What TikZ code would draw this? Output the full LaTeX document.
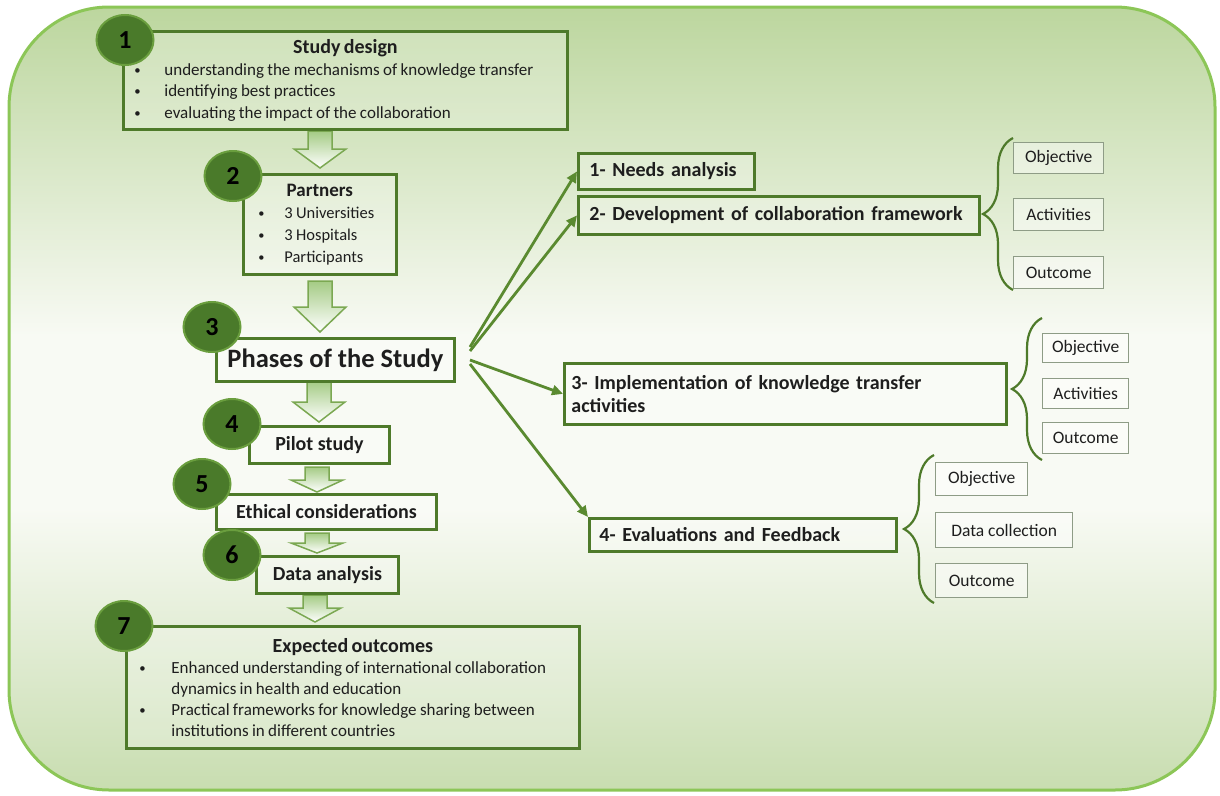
\documentclass[tikz,border=0pt]{standalone}
\usepackage{fontspec}
\setmainfont{Carlito}
\usetikzlibrary{arrows.meta,decorations.pathreplacing,shapes.geometric,calc}
\definecolor{boxgreen}{HTML}{4E7A2A}
\definecolor{circfill}{HTML}{4A7A2A}
\definecolor{circline}{HTML}{6A9E3E}
\definecolor{bgtop}{HTML}{BCD69E}
\definecolor{bgmid}{HTML}{F8FAF4}
\definecolor{bgbot}{HTML}{C8DDB0}
\definecolor{bgline}{HTML}{8CC657}
\definecolor{txt}{HTML}{1E1E1E}
\definecolor{smallline}{HTML}{8E9C86}
\definecolor{fanline}{HTML}{5A8A30}
\definecolor{harrline}{HTML}{7BA852}
\definecolor{harrtop}{HTML}{A4CB84}
\pgfdeclareverticalshading{bgshade}{100bp}{color(0bp)=(bgbot); color(25bp)=(bgbot); color(43bp)=(bgmid); color(54bp)=(bgmid); color(75bp)=(bgtop); color(100bp)=(bgtop)}
\newcommand\B[2]{\makebox[#1][l]{\hspace{#2}\raisebox{0.05em}{\scalebox{0.75}{\textbullet}}}}
\newcommand\rfont{\fontsize{20}{23}\selectfont\bfseries\spaceskip=3.4pt plus 1pt\relax}
\newcommand\harrow[4]{\shadedraw[top color=harrtop, bottom color=white, draw=harrline, line width=1.5pt, line join=miter]
  (#1-12,#2) -- (#1+12,#2) -- (#1+12,#3) -- (#1+26,#3) -- (#1,#4) -- (#1-26,#3) -- (#1-12,#3) -- cycle;}
\tikzset{
  mainbox/.style={draw=boxgreen, line width=2.8pt, fill=white, fill opacity=0.25, text opacity=1, text=txt, inner sep=0pt, anchor=north west},
  numc/.style={ellipse, draw=circline, line width=2pt, fill=circfill, minimum width=57pt, minimum height=50pt, inner sep=0pt, font=\fontsize{26}{26}\selectfont\bfseries, text=black},
  smallbox/.style={draw=smallline, line width=1.3pt, fill=white, fill opacity=0.45, text opacity=1, text=txt, inner sep=0pt, anchor=north west, font=\fontsize{17.5}{19}\selectfont},
  lbl/.style={font=\fontsize{20}{22}\selectfont\bfseries},
  rlbl/.style={font=\rfont, align=left},
  fan/.style={draw=fanline, line width=2.8pt, -{Triangle[length=11pt,width=10pt]}},
  brc/.style={draw=boxgreen, line width=2.2pt, decorate, decoration={brace, amplitude=30pt}}
}
\begin{document}
\begin{tikzpicture}[x=1pt,y=-1pt]
\useasboundingbox (0,0) rectangle (1220,795);
% background
\shade[shading=bgshade, rounded corners=100pt] (9,7) rectangle (1215,790);
\draw[bgline, line width=3pt, rounded corners=100pt] (9,7) rectangle (1215,790);

% hollow arrows
\harrow{320}{131}{149}{168}
\harrow{320}{281}{307}{332}
\harrow{319}{381}{402}{422}
\harrow{317}{467}{480}{492}
\harrow{317}{533}{543}{553}
\harrow{315}{595}{608}{622}

% left boxes
\node[mainbox, minimum width=444pt, minimum height=98pt, text width=432pt, align=left] (b1) at (122,30) {%
{\centering\fontsize{20}{22}\selectfont\bfseries Study design\par}%
\fontsize{17}{21.5}\selectfont
\B{35pt}{5pt}understanding the mechanisms of knowledge transfer\par
\B{35pt}{5pt}identifying best practices\par
\B{35pt}{5pt}evaluating the impact of the collaboration\par};

\node[mainbox, minimum width=153pt, minimum height=100pt, text width=145pt, align=left] (b2) at (242,173) {%
{\centering\fontsize{19}{22}\selectfont\bfseries Partners\par}%
\fontsize{16.5}{22}\selectfont
\B{37pt}{11pt}3 Universities\par
\B{37pt}{11pt}3 Hospitals\par
\B{37pt}{11pt}Participants\par};

\node[mainbox, minimum width=238pt, minimum height=43pt, font=\fontsize{26.5}{28}\selectfont\bfseries] (b3) at (215,337) {Phases of the Study};
\node[mainbox, minimum width=140pt, minimum height=37pt, lbl] (b4) at (248,425) {Pilot study};
\node[mainbox, minimum width=220pt, minimum height=35pt, lbl] (b5) at (215,493) {Ethical considerations};
\node[mainbox, minimum width=142pt, minimum height=37pt, lbl] (b6) at (255,555) {Data analysis};

\node[mainbox, minimum width=453pt, minimum height=122pt, text width=441pt, align=left] (b7) at (125,625) {%
{\centering\fontsize{20}{22}\selectfont\bfseries Expected outcomes\par}%
\fontsize{17}{21}\selectfont
\B{39pt}{7pt}Enhanced understanding of international collaboration\par
\hspace*{39pt}dynamics in health and education\par
\B{39pt}{7pt}Practical frameworks for knowledge sharing between\par
\hspace*{39pt}institutions in different countries\par};

% circles
\node[numc] (c1) at (125,40) {1};
\node[numc] (c2) at (233,176) {2};
\node[numc] (c3) at (212,327) {3};
\node[numc] (c4) at (232,424) {4};
\node[numc] (c5) at (202,484) {5};
\node[numc] (c6) at (232,555) {6};
\node[numc] (c7) at (124,626) {7};

% right boxes
\node[mainbox, minimum width=176pt, minimum height=36pt, inner xsep=11pt, text width=154pt, rlbl] (needs) at (577,152) {1- Needs analysis};
\node[mainbox, minimum width=401pt, minimum height=38pt, inner xsep=11pt, text width=379pt, rlbl] (dev) at (577,195) {2- Development of collaboration framework};
\node[mainbox, minimum width=442pt, minimum height=61pt, inner xsep=7pt, text width=428pt, rlbl] (impl) at (563,362) {3- Implementation of knowledge transfer\\activities};
\node[mainbox, minimum width=307pt, minimum height=33pt, inner xsep=10pt, text width=287pt, rlbl] (eval) at (588,517) {4- Evaluations and Feedback};

% fan arrows
\coordinate (o1) at (470,347);
\coordinate (o2) at (470,351);
\coordinate (o3) at (470,360);
\coordinate (o4) at (470,364);
\draw[fan] (o1) -- (needs.west);
\draw[fan] (o2) -- (dev.west);
\draw[fan] (o3) -- (impl.west);
\draw[fan] (o4) -- (eval.north west);

% small boxes
\node[smallbox, minimum width=90pt, minimum height=31pt] (obj1) at (1013,142) {Objective};
\node[smallbox, minimum width=90pt, minimum height=32pt] (act1) at (1013,198) {Activities};
\node[smallbox, minimum width=90pt, minimum height=32pt] (out1) at (1013,256) {Outcome};
\node[smallbox, minimum width=86pt, minimum height=29pt] (obj2) at (1042,333) {Objective};
\node[smallbox, minimum width=86pt, minimum height=30pt] (act2) at (1042,378) {Activities};
\node[smallbox, minimum width=86pt, minimum height=31pt] (out2) at (1042,422) {Outcome};
\node[smallbox, minimum width=92pt, minimum height=33pt] (obj3) at (935,462) {Objective};
\node[smallbox, minimum width=137pt, minimum height=35pt] (dc3) at (935,512) {Data collection};
\node[smallbox, minimum width=92pt, minimum height=34pt] (out3) at (935,563) {Outcome};

% braces
\draw[brc] (1013,290) -- (1013,138);
\draw[brc] (1042,460) -- (1042,318);
\draw[brc] (934,603) -- (934,455);
\end{tikzpicture}
\end{document}
